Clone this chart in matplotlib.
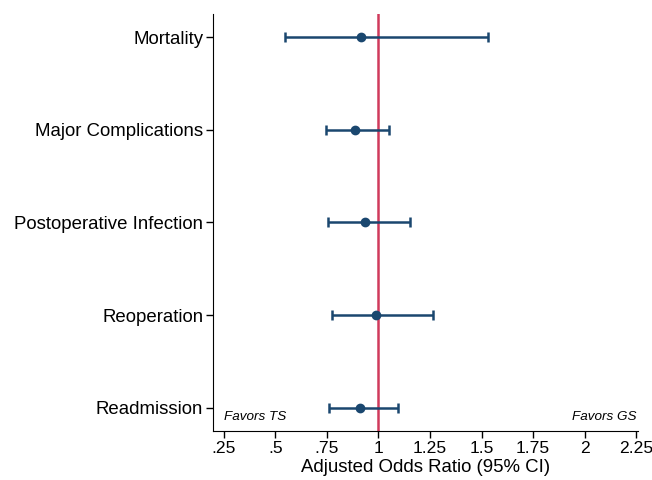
import matplotlib.pyplot as plt

plt.rcParams['font.family'] = ['Liberation Sans', 'DejaVu Sans']

outcomes = ['Mortality', 'Major Complications', 'Postoperative Infection',
            'Reoperation', 'Readmission']
odds_ratio = [0.913, 0.885, 0.934, 0.99, 0.91]
ci_low = [0.545, 0.745, 0.757, 0.776, 0.758]
ci_high = [1.53, 1.053, 1.155, 1.267, 1.095]
xticks = [0.25, 0.5, 0.75, 1, 1.25, 1.5, 1.75, 2, 2.25]
xtick_labels = ['.25', '.5', '.75', '1', '1.25', '1.5', '1.75', '2', '2.25']

navy = '#1a476f'
red = '#d03a5c'

fig = plt.figure(figsize=(6.52, 4.8), dpi=100)
ax = fig.add_axes([0.3267, 0.102, 0.652, 0.869])

ypos = list(range(1, len(outcomes) + 1))
err = [[o - l for o, l in zip(odds_ratio, ci_low)],
       [h - o for o, h in zip(odds_ratio, ci_high)]]

ax.axvline(1, color=red, lw=1.8, zorder=1)
ax.errorbar(odds_ratio, ypos, xerr=err, fmt='o', color=navy, ms=6,
            elinewidth=1.8, capsize=3.5, capthick=1.8, zorder=3)

ax.set_ylim(5.25, 0.75)
ax.set_xlim(0.197, 2.26)
ax.set_yticks(ypos)
ax.set_yticklabels(outcomes, fontsize=13.4)
ax.set_xticks(xticks)
ax.set_xticklabels(xtick_labels, fontsize=12.6)
ax.tick_params(axis='both', length=5, width=1, direction='out', pad=2)

for s in ['top', 'right']:
    ax.spines[s].set_visible(False)

ax.set_xlabel('Adjusted Odds Ratio (95% CI)', fontsize=13.4, labelpad=2)

ax.text(0.25, 5.1, 'Favors TS', fontsize=9.7, style='italic', ha='left', va='center')
ax.text(2.25, 5.1, 'Favors GS', fontsize=9.7, style='italic', ha='right', va='center')

plt.savefig('out.png', dpi=100)
